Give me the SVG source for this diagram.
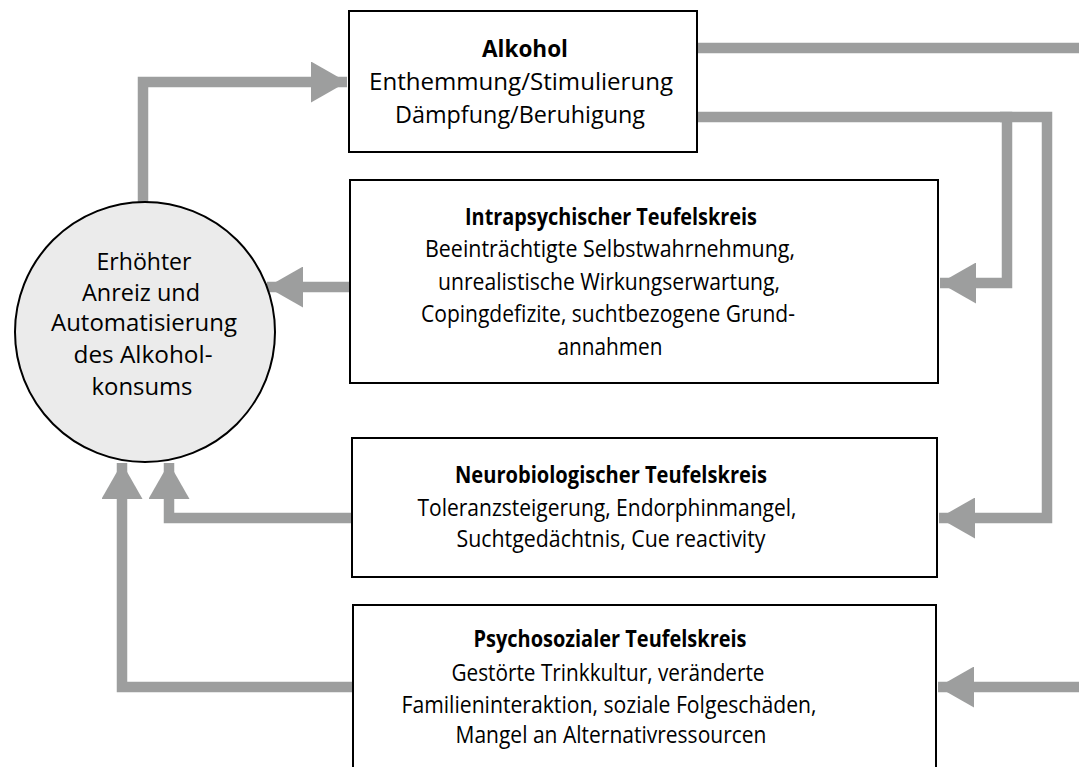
<svg xmlns="http://www.w3.org/2000/svg" width="1079" height="767" viewBox="0 0 1079 767">
  <style>
    .box { fill: #ffffff; stroke: #000000; stroke-width: 2; }
    .hub { fill: #ebebeb; stroke: #000000; stroke-width: 2; }
    .flow { fill: none; stroke: #9d9e9e; stroke-width: 10.5; stroke-linejoin: miter; }
    text { font-family: "Open Sans", "Liberation Sans", sans-serif; font-size: 23.5px; fill: #000000; text-anchor: middle; }
    .title { font-weight: 700; }
  </style>
  <defs>
    <marker id="head" markerUnits="userSpaceOnUse" markerWidth="37" markerHeight="41" refX="36" refY="20.5" orient="auto">
      <path d="M0,0 L36,20.5 L0,41 Z" fill="#9d9e9e"/>
    </marker>
  </defs>

  <!-- connectors -->
  <g id="connectors">
    <path class="flow" d="M143,205 V82 H347" marker-end="url(#head)"/>
    <path class="flow" d="M697,48 H1079"/>
    <path class="flow" d="M697,117 H1007 V283 H940" marker-end="url(#head)"/>
    <path class="flow" d="M1000,117 H1047 V518 H939" marker-end="url(#head)"/>
    <path class="flow" d="M350,287 H267" marker-end="url(#head)"/>
    <path class="flow" d="M352,518 H169 V463" marker-end="url(#head)"/>
    <path class="flow" d="M353,687 H122 V463" marker-end="url(#head)"/>
    <path class="flow" d="M1079,687 H938" marker-end="url(#head)"/>
  </g>

  <!-- central circle -->
  <g id="anreiz">
    <circle class="hub" cx="145" cy="332" r="130"/>
    <text x="144" y="270" textLength="95" lengthAdjust="spacingAndGlyphs">Erhöhter</text>
    <text x="141" y="301" textLength="118" lengthAdjust="spacingAndGlyphs">Anreiz und</text>
    <text x="144" y="331" textLength="186" lengthAdjust="spacingAndGlyphs">Automatisierung</text>
    <text x="143" y="363" textLength="139" lengthAdjust="spacingAndGlyphs">des Alkohol-</text>
    <text x="142" y="395" textLength="101" lengthAdjust="spacingAndGlyphs">konsums</text>
  </g>

  <!-- alcohol effects -->
  <g id="alkohol">
    <rect class="box" x="349" y="11" width="348" height="141"/>
    <text class="title" x="525" y="57" textLength="86" lengthAdjust="spacingAndGlyphs">Alkohol</text>
    <text x="521" y="90" textLength="304" lengthAdjust="spacingAndGlyphs">Enthemmung/Stimulierung</text>
    <text x="520" y="123" textLength="250" lengthAdjust="spacingAndGlyphs">Dämpfung/Beruhigung</text>
  </g>

  <!-- intrapsychic cycle -->
  <g id="intrapsychisch">
    <rect class="box" x="350" y="180" width="588" height="203"/>
    <text class="title" x="611" y="225" textLength="292" lengthAdjust="spacingAndGlyphs">Intrapsychischer Teufelskreis</text>
    <text x="610" y="257" textLength="370" lengthAdjust="spacingAndGlyphs">Beeinträchtigte Selbstwahrnehmung,</text>
    <text x="609" y="290" textLength="342" lengthAdjust="spacingAndGlyphs">unrealistische Wirkungserwartung,</text>
    <text x="608" y="322" textLength="374" lengthAdjust="spacingAndGlyphs">Copingdefizite, suchtbezogene Grund-</text>
    <text x="610" y="355" textLength="105" lengthAdjust="spacingAndGlyphs">annahmen</text>
  </g>

  <!-- neurobiological cycle -->
  <g id="neurobiologisch">
    <rect class="box" x="352" y="438" width="585" height="139"/>
    <text class="title" x="611" y="483" textLength="312" lengthAdjust="spacingAndGlyphs">Neurobiologischer Teufelskreis</text>
    <text x="607" y="516" textLength="379" lengthAdjust="spacingAndGlyphs">Toleranzsteigerung, Endorphinmangel,</text>
    <text x="611" y="547" textLength="309" lengthAdjust="spacingAndGlyphs">Suchtgedächtnis, Cue reactivity</text>
  </g>

  <!-- psychosocial cycle -->
  <g id="psychosozial">
    <rect class="box" x="353" y="605" width="583" height="200"/>
    <text class="title" x="610" y="647" textLength="273" lengthAdjust="spacingAndGlyphs">Psychosozialer Teufelskreis</text>
    <text x="608" y="681" textLength="313" lengthAdjust="spacingAndGlyphs">Gestörte Trinkkultur, veränderte</text>
    <text x="609" y="713" textLength="415" lengthAdjust="spacingAndGlyphs">Familieninteraktion, soziale Folgeschäden,</text>
    <text x="611" y="743" textLength="311" lengthAdjust="spacingAndGlyphs">Mangel an Alternativressourcen</text>
  </g>
</svg>
